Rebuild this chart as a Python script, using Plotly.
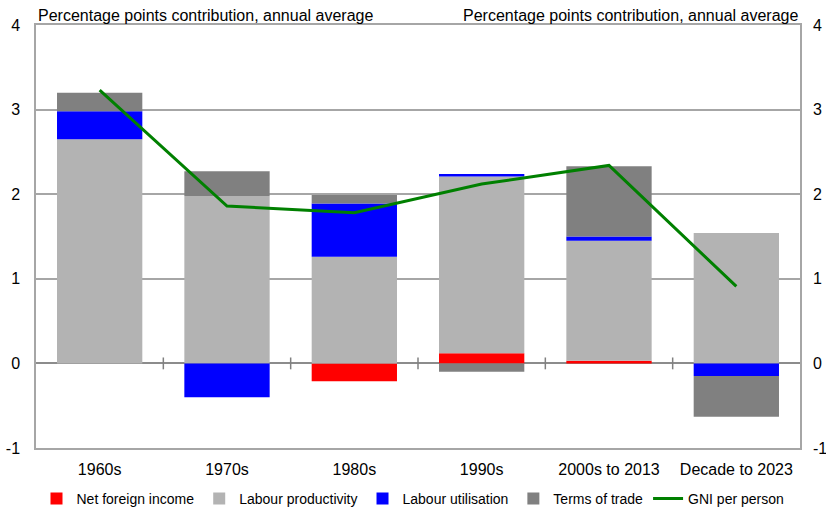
import plotly.graph_objects as go

categories = ["1960s", "1970s", "1980s", "1990s", "2000s to 2013", "Decade to 2023"]
net_foreign_income = [0.0, 0.0, -0.21, 0.12, 0.03, 0.0]
labour_productivity = [2.65, 1.98, 1.26, 2.09, 1.42, 1.54]
labour_utilisation = [0.33, -0.40, 0.63, 0.03, 0.05, -0.15]
terms_of_trade = [0.22, 0.29, 0.10, -0.10, 0.83, -0.48]
gni_per_person = [3.23, 1.86, 1.78, 2.12, 2.34, 0.91]
y_ticks = [-1, 0, 1, 2, 3, 4]
y_tick_labels = ["-1", "0", "1", "2", "3", "4"]
axis_title = "Percentage points contribution, annual average"

FONT = "Liberation Sans, Arial, sans-serif"
GRID = "#a6a6a6"

fig = go.Figure()
bar_w = 0.67
for name, vals, col in [
    ("Net foreign income", net_foreign_income, "#ff0000"),
    ("Labour productivity", labour_productivity, "#b3b3b3"),
    ("Labour utilisation", labour_utilisation, "#0000ff"),
    ("Terms of trade", terms_of_trade, "#808080"),
]:
    fig.add_trace(go.Bar(x=categories, y=vals, name=name, marker_color=col,
                         marker_line_width=0, width=bar_w))

fig.add_trace(go.Scatter(x=categories, y=gni_per_person, name="GNI per person",
                         mode="lines", line=dict(color="#008000", width=3)))
# invisible trace to activate right axis
fig.add_trace(go.Scatter(x=categories, y=gni_per_person, yaxis="y2", mode="lines",
                         line=dict(width=0), showlegend=False, hoverinfo="skip"))

# category boundary ticks on the zero line
for i in range(len(categories) - 1):
    fig.add_shape(type="line", xref="x", yref="y", x0=i + 0.5, x1=i + 0.5,
                  y0=-0.07, y1=0.07, line=dict(color="#808080", width=1.5))

fig.update_layout(
    width=826, height=515,
    margin=dict(l=36, r=26, t=25, b=67, autoexpand=False),
    barmode="relative",
    plot_bgcolor="white", paper_bgcolor="white",
    font=dict(family=FONT, size=16, color="black"),
    showlegend=True,
    legend=dict(orientation="h", xref="container", x=0.5, xanchor="center",
                yref="container", y=0.0, yanchor="bottom",
                font=dict(size=14), itemwidth=30, traceorder="normal",
                tracegroupgap=0),
    xaxis=dict(showgrid=False, ticks="", showline=True, linecolor=GRID, linewidth=1.5,
               mirror=True, tickfont=dict(size=16), range=[-0.5, 5.5], automargin=False,
               ticklabelstandoff=6),
    yaxis=dict(range=[-1, 4], tickvals=y_ticks, ticktext=y_tick_labels, showgrid=True,
               gridcolor=GRID, gridwidth=1.5, zeroline=True, zerolinecolor="#8c8c8c",
               zerolinewidth=2, showline=True, linecolor=GRID, linewidth=1.5, mirror=True,
               ticks="", ticklabelstandoff=11, tickfont=dict(size=16), automargin=False),
    yaxis2=dict(range=[-1, 4], tickvals=y_ticks, ticktext=y_tick_labels, overlaying="y",
                side="right", showgrid=False, zeroline=False, ticks="",
                ticklabelstandoff=12, tickfont=dict(size=16), automargin=False),
    annotations=[
        dict(text=axis_title, xref="paper", yref="paper", x=0.0, y=1.0, yshift=-1,
             xanchor="left", yanchor="bottom", showarrow=False, font=dict(size=16)),
        dict(text=axis_title, xref="paper", yref="paper", x=1.0, y=1.0, yshift=-1,
             xanchor="right", yanchor="bottom", showarrow=False, font=dict(size=16)),
    ],
)

fig.write_html("out.html", post_script="document.body.style.margin='0';",
               config={"displayModeBar": False})
